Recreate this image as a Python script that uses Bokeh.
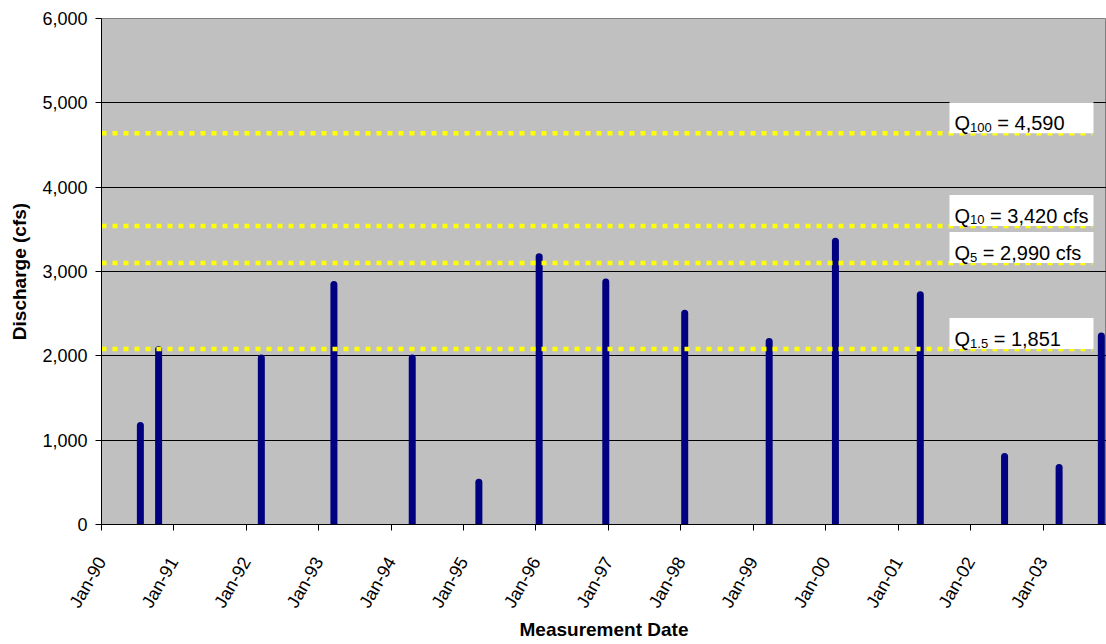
import math
import pandas as pd
from bokeh.plotting import figure
from bokeh.models import Range1d, FixedTicker, NumeralTickFormatter, DatetimeTickFormatter, ColumnDataSource
from bokeh.core.properties import value
from bokeh.embed import file_html
from bokeh.resources import INLINE

# ---- data ----
meas_dates = ["1990-07-16", "1990-10-16", "1992-03-17", "1993-03-18", "1994-04-17",
              "1995-03-19", "1996-01-17", "1996-12-18", "1998-01-20", "1999-03-22",
              "2000-02-19", "2001-04-22", "2002-06-21", "2003-03-23", "2003-10-22"]
discharge = [1175, 2075, 1975, 2845, 1975, 500, 3175, 2875, 2505, 2170, 3360, 2725, 805, 675, 2235]

flood_levels = [4640, 3540, 3100, 2080]
flood_sub = ["100", "10", "5", "1.5"]
flood_text = ["= 4,590", "= 3,420 cfs", "= 2,990 cfs", "= 1,851"]
line_start = "1990-01-01"
line_end = "2003-09-07"

tick_years = list(range(1990, 2004))
y_ticks = [0, 1000, 2000, 3000, 4000, 5000, 6000]

x_start = pd.Timestamp("1990-01-01")
x_end = pd.Timestamp("2003-11-17")

# ---- layout ----
W, H = 1106, 644
BL, BR, BT, BB = 101, 0, 18, 120
FW, FH = W - BL - BR, H - BT - BB
FONT = "Liberation Sans"

p = figure(width=W, height=H, x_axis_type="datetime", output_backend="svg",
           toolbar_location=None, min_border_left=BL, min_border_right=BR,
           min_border_top=BT, min_border_bottom=BB)
p.x_range = Range1d(x_start, x_end)
p.y_range = Range1d(0, 6000)
p.background_fill_color = "#C0C0C0"
p.border_fill_color = "white"
p.outline_line_color = "#808080"

# axes
p.yaxis.ticker = FixedTicker(ticks=y_ticks)
p.yaxis.formatter = NumeralTickFormatter(format="0,0")
xt = [pd.Timestamp(f"{y}-01-01").value / 1e6 for y in tick_years]
p.xaxis.ticker = FixedTicker(ticks=xt)
fmt = "%b-%y"
p.xaxis.formatter = DatetimeTickFormatter(years=fmt, months=fmt, days=fmt, hours=fmt,
                                          minutes=fmt, seconds=fmt, milliseconds=fmt, microseconds=fmt)
p.xaxis.major_label_orientation = math.pi / 3
for ax in (p.xaxis, p.yaxis):
    ax.axis_line_color = "black"
    ax.major_tick_line_color = "black"
    ax.minor_tick_line_color = None
    ax.major_tick_in = 0
    ax.major_tick_out = 6
    ax.major_label_text_font = FONT
    ax.major_label_text_font_size = "18px"
    ax.major_label_text_color = "black"
    ax.axis_label_text_font = FONT
    ax.axis_label_text_font_size = "19px"
    ax.axis_label_text_font_style = "bold"
    ax.axis_label_text_color = "black"
p.yaxis.axis_label = "Discharge (cfs)"
p.xaxis.axis_label = "Measurement Date"
p.yaxis.major_label_standoff = 8
p.xaxis.major_label_standoff = 28
p.yaxis.axis_label_standoff = 9
p.xaxis.axis_label_standoff = 0

p.xgrid.grid_line_color = None
p.ygrid.grid_line_color = "black"
p.ygrid.grid_line_width = 1

# bars
src = ColumnDataSource(dict(x=pd.to_datetime(meas_dates), y0=[0] * len(discharge), y1=discharge))
p.segment(x0="x", y0="y0", x1="x", y1="y1", source=src, line_color="#000080",
          line_width=7, line_cap="round")

# flood frequency lines
ls, le = pd.Timestamp(line_start), pd.Timestamp(line_end)
for lv in flood_levels:
    p.line([ls, le], [lv, lv], line_color="#FFFF00", line_width=4.5, line_dash="5 6")

# label boxes
ms_per_px = (x_end - x_start) / FW
box_right = x_start + ms_per_px * (FW - 13)
box_left = x_start + ms_per_px * (FW - 13 - 144)
box_h = 31 * 6000 / FH
p.quad(left=[box_left] * 4, right=[box_right] * 4, bottom=flood_levels,
       top=[lv + box_h for lv in flood_levels], fill_color="white", line_color=None)

cw = {"0": .556, "1": .556, "5": .556, ".": .278}
MAIN, SUB = 20, 13
q_w = 0.778 * MAIN
sp_w = 0.278 * MAIN
for lv, sb, tx in zip(flood_levels, flood_sub, flood_text):
    sub_w = sum(cw[c] for c in sb) * SUB
    p.text(x=[box_left], y=[lv], text=["Q"], x_offset=5, y_offset=-10,
           text_font=value(FONT), text_font_size=f"{MAIN}px", text_baseline="alphabetic",
           text_align="left", text_color="black")
    p.text(x=[box_left], y=[lv], text=[sb], x_offset=5 + q_w, y_offset=-6,
           text_font=value(FONT), text_font_size=f"{SUB}px", text_baseline="alphabetic",
           text_align="left", text_color="black")
    p.text(x=[box_left], y=[lv], text=[tx], x_offset=5 + q_w + sub_w + sp_w, y_offset=-10,
           text_font=value(FONT), text_font_size=f"{MAIN}px", text_baseline="alphabetic",
           text_align="left", text_color="black")

open("out.html", "w").write(file_html(p, INLINE))
